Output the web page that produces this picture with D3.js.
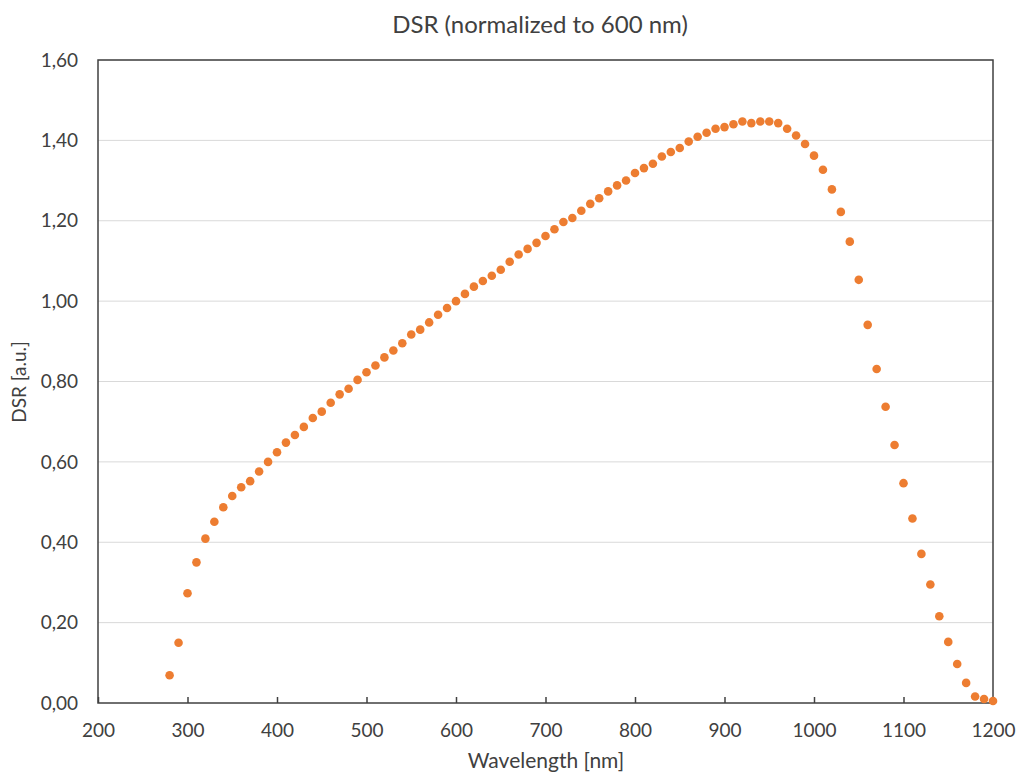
<!DOCTYPE html>
<html>
<head>
    <meta charset="utf-8">
    <style>
        html, body { padding: 0; margin: 0; background: #fff; }
        svg { display: block; font-family: Lato, 'Open Sans', sans-serif; }
    </style>
</head>
<body>
    <div id="chart"></div>
    <script src="https://cdn.jsdelivr.net/npm/d3@7"></script>
    <script>
        // wavelength in nm, every 10 nm from 280 to 1200
        const wavelengths = d3.range(280, 1201, 10);
        const dsr = [
            0.069, 0.150, 0.273, 0.350, 0.409, 0.451, 0.487, 0.515, 0.537, 0.552,
            0.576, 0.600, 0.624, 0.648, 0.667, 0.687, 0.709, 0.725, 0.747, 0.768,
            0.782, 0.804, 0.823, 0.840, 0.860, 0.877, 0.895, 0.917, 0.929, 0.947,
            0.966, 0.983, 1.000, 1.018, 1.036, 1.050, 1.063, 1.078, 1.098, 1.116,
            1.130, 1.145, 1.162, 1.179, 1.197, 1.207, 1.225, 1.242, 1.256, 1.273,
            1.288, 1.300, 1.319, 1.331, 1.342, 1.360, 1.371, 1.381, 1.397, 1.409,
            1.419, 1.429, 1.433, 1.440, 1.447, 1.443, 1.447, 1.447, 1.443, 1.429,
            1.412, 1.391, 1.362, 1.327, 1.278, 1.222, 1.148, 1.053, 0.941, 0.831,
            0.737, 0.642, 0.547, 0.459, 0.371, 0.295, 0.216, 0.152, 0.097, 0.050,
            0.016, 0.010, 0.005
        ];
        const xTicks = [200, 300, 400, 500, 600, 700, 800, 900, 1000, 1100, 1200];
        const yTicks = [0, 0.2, 0.4, 0.6, 0.8, 1.0, 1.2, 1.4, 1.6];

        const width = 1018, height = 773;
        const margin = { top: 60, right: 25, bottom: 70, left: 98 };

        const svg = d3.select('#chart').append('svg')
            .attr('width', width)
            .attr('height', height);

        const x = d3.scaleLinear().domain([200, 1200]).range([margin.left, width - margin.right]);
        const y = d3.scaleLinear().domain([0, 1.6]).range([height - margin.bottom, margin.top]);

        // gridlines
        svg.append('g')
            .selectAll('line')
            .data(yTicks.slice(1))
            .join('line')
            .attr('x1', x(200)).attr('x2', x(1200))
            .attr('y1', d => y(d)).attr('y2', d => y(d))
            .attr('stroke', '#d9d9d9')
            .attr('stroke-width', 1);

        // y tick labels, comma decimals
        const fmt = d => d3.format('.2f')(d).replace('.', ',');
        svg.append('g')
            .selectAll('text')
            .data(yTicks)
            .join('text')
            .attr('x', 78)
            .attr('y', d => y(d))
            .attr('dy', '0.35em')
            .attr('text-anchor', 'end')
            .attr('fill', '#404040')
            .style('font-size', '19px')
            .text(fmt);

        // x axis with inward ticks
        const xAxis = svg.append('g')
            .attr('transform', `translate(0,${y(0)})`)
            .call(d3.axisBottom(x).tickValues(xTicks).tickFormat(d3.format('d'))
                .tickSizeInner(-6).tickSizeOuter(0).tickPadding(21));
        xAxis.select('.domain').remove();
        xAxis.selectAll('line').attr('stroke', '#404040').attr('stroke-width', 1.5);
        xAxis.selectAll('text')
            .attr('fill', '#404040')
            .style('font-size', '19px')
            .style('font-family', 'Lato, sans-serif');

        // frame
        svg.append('rect')
            .attr('x', x(200)).attr('y', y(1.6))
            .attr('width', x(1200) - x(200))
            .attr('height', y(0) - y(1.6))
            .attr('fill', 'none')
            .attr('stroke', '#404040')
            .attr('stroke-width', 1.5);

        // points
        svg.append('g')
            .selectAll('circle')
            .data(wavelengths.map((w, i) => ({ w, v: dsr[i] })))
            .join('circle')
            .attr('cx', d => x(d.w))
            .attr('cy', d => y(d.v))
            .attr('r', 4.3)
            .attr('fill', '#ed7d31');

        // titles
        svg.append('text')
            .attr('x', 540).attr('y', 33)
            .attr('text-anchor', 'middle')
            .attr('fill', '#404040')
            .style('font-size', '24px')
            .text('DSR (normalized to 600 nm)');

        svg.append('text')
            .attr('x', 546).attr('y', 768)
            .attr('text-anchor', 'middle')
            .attr('fill', '#404040')
            .style('font-size', '21px')
            .text('Wavelength [nm]');

        svg.append('text')
            .attr('transform', 'translate(26,382) rotate(-90)')
            .attr('text-anchor', 'middle')
            .attr('fill', '#404040')
            .style('font-size', '19px')
            .text('DSR [a.u.]');
    </script>
</body>
</html>
